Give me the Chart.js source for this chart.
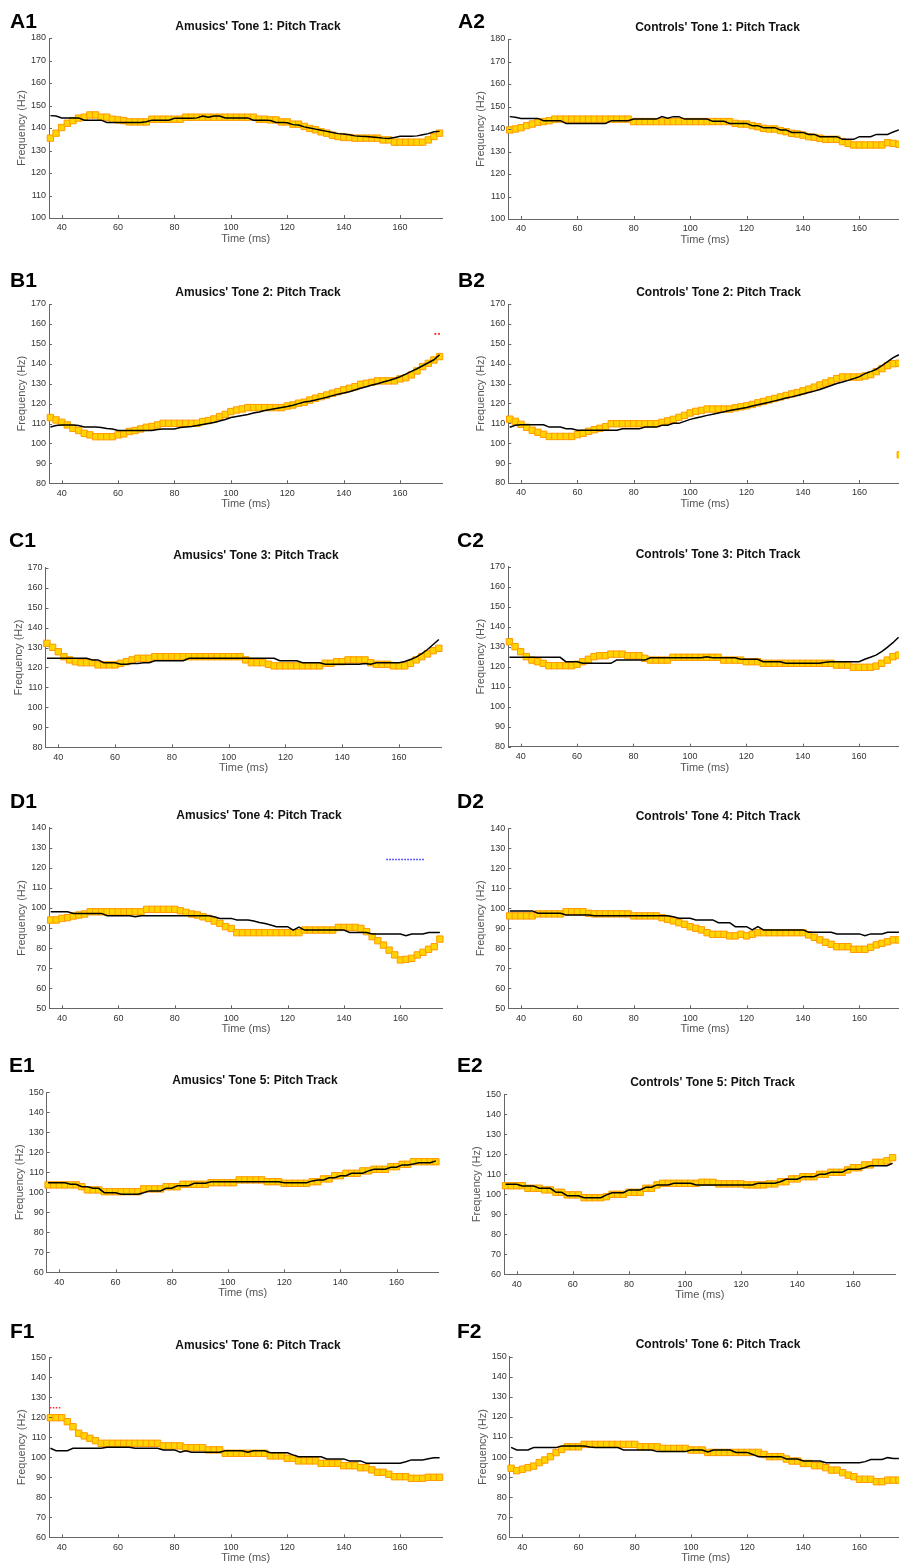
<!DOCTYPE html>
<html>
<head>
<meta charset="utf-8">
<title>Pitch tracks</title>
<script src="https://cdn.jsdelivr.net/npm/chart.js@4.4.0/dist/chart.umd.min.js"></script>
<style>
  html, body { margin: 0; padding: 0; background: #fff; }
  #fig { position: relative; width: 899px; height: 1565px; overflow: hidden; }
  #fig canvas { position: absolute; }
  .tag { position: absolute; font: bold 21px "Liberation Sans", Arial, sans-serif; line-height: 21px; color: #000; }
  .ptitle { position: absolute; width: 300px; text-align: center; white-space: nowrap;
            font: bold 12px "Liberation Sans", Arial, sans-serif; line-height: 14px; color: #111; }
</style>
</head>
<body>
<div id="fig"></div>
<script>
// Pitch tracks: black = target tone, yellow squares = produced pitch

const times = [36, 38, 40, 42, 44, 46, 48, 50, 52, 54, 56, 58,
  60, 62, 64, 66, 68, 70, 72, 74, 76, 78, 80, 82, 84, 86, 88, 90, 92, 94, 96, 98,
  100, 102, 104, 106, 108, 110, 112, 114, 116, 118, 120, 122, 124, 126, 128, 130, 132, 134, 136, 138,
  140, 142, 144, 146, 148, 150, 152, 154, 156, 158, 160, 162, 164, 166, 168, 170, 172, 174];

const timeTicks = [40, 60, 80, 100, 120, 140, 160];
const ticksTone1 = [100, 110, 120, 130, 140, 150, 160, 170, 180];
const ticksTone2 = [80, 90, 100, 110, 120, 130, 140, 150, 160, 170];
const ticksTone3 = [80, 90, 100, 110, 120, 130, 140, 150, 160, 170];
const ticksTone4 = [50, 60, 70, 80, 90, 100, 110, 120, 130, 140];
const ticksTone5 = [60, 70, 80, 90, 100, 110, 120, 130, 140, 150];
const ticksTone6 = [60, 70, 80, 90, 100, 110, 120, 130, 140, 150];

const a1Target = [145.5, 145.3, 144.5, 144.5, 144.5, 144.5, 143.5, 143.5, 143.5, 143.5, 142.5, 142.5,
  142.5, 142.5, 142.5, 142.5, 142.5, 142.8, 143.5, 143.5, 143.5, 143.5, 144.3, 144.3, 144.3, 144.3, 144.5, 145.3, 144.8, 145.3, 145.3, 144.5,
  144.5, 144.5, 144.5, 144.5, 143.5, 143.5, 143.5, 143.3, 142.5, 142.5, 142.3, 141.5, 141.3, 140.5, 140, 139.5, 139, 138.5, 138, 137.5,
  137.3, 137, 136.5, 136.3, 136.2, 136, 135.8, 135.5, 135.3, 135.8, 136.3, 136.3, 136.3, 136.5, 137, 137.5, 138.3, 138.5];
const a1Produced = [135.5, 137.7, 140.2, 142.1, 143.3, 144.4, 144.8, 145.8, 145.8, 144.8, 144.8, 143.9,
  143.6, 143.3, 142.7, 142.7, 142.7, 142.7, 143.9, 143.9, 143.9, 143.9, 143.9, 143.9, 144.8, 144.8, 144.8, 144.8, 144.8, 144.8, 144.8, 144.8,
  144.8, 144.8, 144.8, 144.8, 144.8, 143.9, 143.9, 143.6, 143.6, 142.7, 142.7, 141.7, 141.7, 140.7, 139.8, 139.2, 138.3, 137.7, 136.8, 136.2,
  135.8, 135.8, 135.5, 135.5, 135.5, 135.5, 135.5, 134.7, 134.7, 133.7, 133.7, 133.7, 133.7, 133.7, 133.7, 134.7, 136.2, 137.7];

const a2Target = [145.5, 145.2, 144.7, 144.7, 144.7, 144.7, 143.7, 143.7, 143.7, 143.7, 142.5, 142.5,
  142.5, 142.5, 142.5, 142.5, 142.5, 142.5, 143.7, 143.7, 143.7, 143.7, 144.4, 144.4, 144.4, 144.4, 144.4, 145.5, 144.8, 145.5, 145.5, 144.4,
  144.4, 144.4, 144.4, 144.4, 143.4, 143.4, 143.4, 142.5, 142.5, 142.5, 142.5, 141.5, 141.5, 140.6, 140.6, 140.6, 139.6, 139.6, 138.5, 138.5,
  138.5, 137.6, 137.6, 136.6, 136.6, 136.6, 136.6, 135.4, 135.4, 135.4, 136.6, 136.6, 136.6, 137.6, 137.6, 137.6, 138.7, 139.6];
const a2Produced = [139.6, 140, 140.6, 141.5, 142.2, 143, 143.3, 143.7, 144.4, 144.4, 144.4, 144.4,
  144.4, 144.4, 144.4, 144.4, 144.4, 144.4, 144.4, 144.4, 144.4, 144.4, 143.3, 143.3, 143.3, 143.3, 143.3, 143.3, 143.3, 143.3, 143.3, 143.3,
  143.3, 143.3, 143.3, 143.3, 143.3, 143.3, 143.3, 143.3, 142.5, 142.2, 142.2, 141.5, 141, 140.3, 140, 140, 139.3, 138.8, 138.1, 137.8,
  137.3, 136.6, 136.3, 135.9, 135.4, 135.4, 135.4, 134.4, 133.6, 132.9, 132.9, 132.9, 132.9, 132.9, 132.9, 133.9, 133.6, 133.2];

const b1Target = [108.3, 109, 109.3, 109.3, 109.3, 109, 108.3, 108.3, 108.3, 108, 107.5, 107.3,
  106.5, 106.5, 106.5, 106.5, 106.5, 106.5, 106.5, 107, 107.3, 107.3, 107.3, 108, 108.3, 108.5, 109, 109.5, 110, 110.5, 111.3, 112,
  113, 113.5, 114, 114.5, 115.3, 115.8, 116.5, 117, 117.5, 118, 118.5, 119.2, 120, 120.8, 121.2, 121.8, 122.5, 123.2, 124, 124.7,
  125.3, 126, 126.8, 127.7, 128.5, 129.3, 130, 130.8, 131.6, 132.5, 133.5, 134.8, 136.2, 137.5, 139, 140.5, 142, 144.5];
const b1Produced = [113, 111.8, 110.6, 109.3, 107.6, 106.5, 105.1, 104.3, 103.4, 103.4, 103.4, 103.4,
  104.3, 104.8, 106, 106.5, 107.3, 108.1, 108.5, 109.3, 110.1, 110.1, 110.1, 110.1, 110.1, 110.1, 110.1, 111, 111.5, 112.3, 113.5, 114.6,
  116, 116.8, 117.3, 118, 118, 118, 118, 118, 118, 118, 118.8, 119.3, 120.2, 120.7, 121.8, 122.7, 123.5, 124.3, 125.2, 126,
  126.9, 127.7, 128.5, 129.7, 130.2, 130.7, 131.4, 131.4, 131.4, 131.4, 132.4, 133, 134.4, 136.4, 138.6, 140.2, 141.9, 143.6];

const b2Target = [108, 109, 109.3, 109.3, 109.3, 109.3, 109.3, 108.1, 108.1, 108.1, 107.3, 107.3,
  106.5, 106.5, 106.5, 106.5, 106.5, 106.5, 106.5, 106.5, 107.3, 107.3, 107.3, 107.3, 108.1, 108.1, 108.1, 109, 109, 110, 110, 111,
  112, 112.7, 113.3, 114, 114.6, 115.2, 115.8, 116.5, 117, 117.5, 118, 118.7, 119.3, 120, 120.6, 121.3, 122, 122.7, 123.3, 124,
  124.7, 125.5, 126.2, 127, 128, 129, 130, 130.8, 131.6, 132.5, 133.5, 135, 136, 137.2, 139, 141, 143, 144.5];
const b2Produced = [112.1, 111, 109.5, 108, 106.5, 105.5, 104.5, 103.4, 103.4, 103.4, 103.4, 103.4,
  104.3, 105, 106, 106.8, 107.5, 108.3, 109.8, 109.8, 109.8, 109.8, 109.8, 109.8, 109.8, 109.8, 109.8, 110.5, 111.2, 112, 113, 114,
  115.2, 116, 116.5, 117.2, 117.2, 117.2, 117.2, 117.2, 117.8, 118.3, 118.8, 119.5, 120.3, 121, 121.8, 122.5, 123.3, 124, 124.8, 125.5,
  126.3, 127.2, 128.2, 129.3, 130.3, 131.3, 132.5, 133.3, 133.3, 133.3, 133.3, 133.8, 134.5, 136, 137.5, 139, 140, 140.2];

const c1Target = [124.6, 124.6, 124.6, 124.6, 124.6, 124.6, 124.6, 124.6, 123.8, 123.8, 122.4, 122.4,
  122.4, 121.6, 121.6, 122, 122, 122.4, 122.4, 123.4, 123.4, 123.4, 123.4, 123.4, 123.4, 124.6, 124.6, 124.6, 124.6, 124.6, 124.6, 124.6,
  124.6, 124.6, 124.6, 124.6, 124.6, 124.6, 124.6, 124.6, 124.6, 123.4, 123.4, 123.4, 123.4, 122.4, 122.4, 122.4, 122.4, 121.6, 121.6, 121.6,
  121.6, 121.6, 121.6, 121.6, 122, 121.6, 122.4, 122.4, 122.4, 122.4, 122.4, 123, 124, 125.2, 127, 129, 131.5, 134];
const c1Produced = [132.1, 130.1, 127.9, 125.4, 123.8, 122.9, 122.4, 122.4, 122.4, 121.3, 121.3, 121.3,
  121.3, 122.1, 122.9, 123.8, 124.6, 124.6, 124.6, 125.4, 125.4, 125.4, 125.4, 125.4, 125.4, 125.4, 125.4, 125.4, 125.4, 125.4, 125.4, 125.4,
  125.4, 125.4, 125.4, 123.8, 122.4, 122.4, 122.4, 121.6, 120.8, 120.8, 120.8, 120.8, 120.8, 120.8, 120.8, 120.8, 120.8, 122.1, 122.1, 122.9,
  122.9, 123.8, 123.8, 123.8, 123.8, 122.4, 121.6, 121.6, 121.6, 120.8, 120.8, 120.8, 122.1, 123.8, 125.4, 126.8, 128.4, 129.6];

const c2Target = [124.7, 124.7, 124.7, 124.7, 124.7, 124.7, 124.7, 124.7, 124.7, 124.7, 122.5, 122.5,
  122.5, 121.7, 121.7, 121.7, 121.7, 121.7, 121.7, 123.3, 123.3, 123.3, 123.3, 123.3, 123.3, 124.5, 124.5, 124.5, 124.5, 124.5, 124.5, 124.5,
  124.5, 124.5, 124.5, 125, 124.5, 124.5, 124.5, 124.5, 124.5, 123.7, 123.7, 123.7, 123.7, 122.5, 122.5, 122.5, 122.5, 121.7, 121.7, 121.7,
  121.7, 121.7, 121.7, 121.7, 122.2, 122.5, 122.5, 122.5, 122.5, 122.5, 122.5, 123.7, 124.7, 125.8, 127.5, 129.7, 132, 134.7];
const c2Produced = [132.5, 130, 127.5, 125, 123.3, 122.5, 121.7, 120.5, 120.5, 120.5, 120.5, 120.5,
  121.2, 122.5, 123.7, 125, 125.5, 125.5, 126.3, 126.3, 126.3, 125.5, 125.5, 125.5, 124.2, 123.3, 123.3, 123.3, 123.3, 124.7, 124.7, 124.7,
  124.7, 124.7, 124.7, 124.7, 124.7, 124.7, 123.3, 123.3, 123.3, 123.3, 122.5, 122.5, 122.5, 121.7, 121.7, 121.7, 121.7, 121.7, 121.7, 121.7,
  121.7, 121.7, 121.7, 121.7, 121.7, 121.7, 120.8, 120.8, 120.8, 119.7, 119.7, 119.7, 119.7, 120.3, 121.7, 123.3, 125, 125.8];

const d1Target = [98.1, 98.1, 98.1, 98.1, 97.3, 97.3, 97.3, 97.3, 97.3, 97.3, 96.1, 96.1,
  96.1, 96.1, 96.1, 95.6, 96.1, 96.1, 96.1, 96.1, 96.1, 96.1, 96.1, 96.1, 96.1, 96.1, 96.1, 96.1, 96.1, 95.6, 94.8, 94.8,
  94.8, 94, 94, 94, 93.5, 92.8, 92.3, 91.5, 90.7, 90.7, 90.7, 89, 90.5, 89, 89, 89, 89, 89, 89, 89,
  89, 87.8, 87.8, 87.8, 87.8, 87, 87, 87, 87, 87, 87, 86.2, 87, 87, 87, 87.8, 87.8, 87.8];
const d1Produced = [94, 94, 94.8, 95.2, 96, 96.5, 97, 98.1, 98.1, 98.1, 98.1, 98.1,
  98.1, 98.1, 98.1, 98.1, 98.1, 99.3, 99.3, 99.3, 99.3, 99.3, 99.3, 98.6, 97.8, 97, 96.5, 95.6, 94.8, 93.5, 92.3, 90.7,
  89.8, 87.7, 87.7, 87.7, 87.7, 87.7, 87.7, 87.7, 87.7, 87.7, 87.7, 87.7, 87.7, 89, 89, 89, 89, 89, 89, 90.3,
  90.3, 90.3, 90.3, 89.8, 88.2, 85.7, 83.7, 81.5, 79, 76.6, 74.1, 74.4, 74.9, 76.6, 77.9, 79.4, 80.7, 84.5];

const d2Target = [98.7, 98.7, 98.7, 98.7, 98.7, 97.5, 97.5, 97.5, 97.5, 97.5, 96.7, 96.7,
  96.7, 96.7, 96.7, 96.3, 96.3, 96.3, 96.3, 96.3, 96.3, 96.3, 96.3, 96.3, 96.3, 96.3, 96.3, 96.3, 96.3, 95.8, 95, 95,
  95, 94.2, 94.2, 94.2, 94.2, 92.8, 92.8, 92.8, 90.8, 90.8, 90.8, 89.2, 90.8, 89.2, 89.2, 89.2, 89.2, 89.2, 89.2, 89.2,
  89.2, 88, 88, 88, 88, 88, 87.2, 87.2, 87.2, 87.2, 87.2, 86.3, 87.2, 87.2, 87.2, 88, 88, 88];
const d2Produced = [96.2, 96.2, 96.2, 96.2, 96.2, 97.2, 97.2, 97.2, 97.2, 97.2, 98.3, 98.3,
  98.3, 98.3, 97.5, 97.2, 97.2, 97.2, 97.2, 97.2, 97.2, 97.2, 96.2, 96.2, 96.2, 96.2, 96.2, 95.3, 94.5, 93.7, 92.8, 92,
  90.8, 90, 89.2, 87.8, 87, 87, 87, 86.2, 86.2, 87, 86.2, 87, 87.8, 87.8, 87.8, 87.8, 87.8, 87.8, 87.8, 87.8,
  87.8, 86.7, 85.5, 84.2, 83, 82, 80.8, 80.8, 80.8, 79.5, 79.5, 79.5, 80.5, 81.7, 82.5, 83.3, 84.2, 84.2];

const e1Target = [104.8, 104.8, 104.8, 104.8, 104, 104, 102.8, 102.8, 102, 102, 99.8, 99.8,
  99.8, 99, 99, 99, 99, 99.8, 100.7, 100.7, 100.7, 102, 102, 103.3, 103.3, 103.3, 104.5, 104.5, 104.5, 105.3, 105.3, 105.3,
  105.3, 105.3, 105.3, 105.3, 105.3, 105.3, 105.3, 105.3, 105.3, 105.3, 104.8, 104.8, 104.8, 104.8, 104.8, 105.7, 106.2, 106.2, 107.3, 107.3,
  108.3, 108.3, 109.5, 109.5, 109.5, 110.7, 111.5, 111.5, 111.5, 112.5, 112.5, 113.7, 113.7, 114.2, 114.8, 114.8, 114.8, 115.7];
const e1Produced = [103.7, 103.7, 103.7, 103.7, 103.7, 103.7, 102.8, 101.2, 101.2, 101.2, 100.3, 100.3,
  100.3, 100.3, 100.3, 100.3, 100.3, 101.7, 101.7, 101.7, 101.7, 102.8, 102.8, 102.8, 104, 104, 104, 104, 104, 104.8, 104.8, 104.8,
  104.8, 104.8, 106.2, 106.2, 106.2, 106.2, 106.2, 105.3, 105.3, 105.3, 104.5, 104.5, 104.5, 104.5, 104.5, 105.3, 105.3, 106.7, 106.7, 108.3,
  108.3, 109.5, 109.5, 109.5, 110.7, 110.7, 111.5, 111.5, 111.5, 112.8, 112.8, 114, 114, 115.3, 115.3, 115.3, 115.3, 115.3];

const e2Target = [105, 105, 105, 104.2, 104.2, 104.2, 103, 103, 103, 101, 101, 99.3,
  99.3, 99.3, 98.3, 98.3, 98.3, 98.3, 99.7, 100.8, 100.8, 100.8, 102.2, 102.2, 102.2, 103.5, 103.5, 104.7, 104.7, 104.7, 105.5, 105.5,
  105.5, 105.5, 104.7, 104.7, 104.7, 104.7, 104.7, 104.7, 104.7, 104.7, 104.7, 104.7, 104.7, 105.5, 105.5, 105.5, 105.5, 106.3, 107.5, 107.5,
  107.5, 108.8, 108.8, 108.8, 110, 110, 111, 111, 111, 112.5, 112.5, 112.5, 113.3, 114.3, 114.3, 114.3, 114.3, 115.5];
const e2Produced = [104.3, 104.3, 104.3, 104.3, 103, 103, 103, 102.2, 102.2, 101, 101, 99.7,
  99.7, 99.7, 98.3, 98.3, 98.3, 98.3, 98.8, 100, 100, 100, 101, 101, 101, 103, 103, 104.7, 105.5, 105.5, 105.5, 105.5,
  105.5, 105.5, 105.5, 106, 106, 106, 105.2, 105.2, 105.2, 105.2, 105.2, 104.7, 104.7, 104.7, 104.7, 105.2, 105.2, 106.3, 106.3, 107.7,
  107.7, 108.8, 108.8, 108.8, 110, 110, 111, 111, 111, 112.2, 113.3, 113.3, 114.7, 114.7, 116, 116, 116.7, 118.3];

const f1Target = [104.5, 103.3, 103.3, 103.3, 104.5, 104.5, 104.5, 104.5, 104.5, 104.5, 105, 105,
  105, 105, 105, 104.5, 104.5, 104.5, 104.5, 104.5, 103.7, 103.7, 103.7, 102.5, 103.3, 102.5, 102.5, 102.5, 102.5, 102.5, 102.5, 103.3,
  103.3, 103.3, 103.3, 102.5, 103.3, 103.3, 103.3, 102.3, 102.3, 102.3, 102.3, 101.2, 100.3, 100.3, 100.3, 100.3, 100.3, 99.2, 99.2, 99.2,
  99.2, 98.2, 98.2, 98.2, 97, 97, 97, 97, 97, 97, 97, 97.8, 98.7, 98.7, 98.7, 99.3, 99.8, 99.8];
const f1Produced = [119.8, 119.8, 119.8, 117.8, 115.3, 112, 110.7, 109.5, 108.3, 107, 107, 107,
  107, 107, 107, 107, 107, 107, 107, 107, 105.7, 105.7, 105.7, 105.7, 104.8, 104.8, 104.8, 104.8, 103.7, 103.7, 103.7, 102,
  102, 102, 102, 102, 102, 102, 102, 100.7, 100.7, 100.7, 99.5, 99.5, 98.2, 98.2, 98.2, 98.2, 97, 97, 97, 97,
  95.8, 95.8, 95.8, 94.8, 94.8, 93.7, 92.5, 92.5, 91.5, 90.3, 90.3, 90.3, 89.5, 89.5, 89.5, 90, 90, 90];

const f2Target = [104.8, 103.5, 103.5, 103.5, 104.7, 104.7, 104.7, 104.7, 104.7, 105.5, 105.5, 105.5,
  105.5, 105.5, 105, 104.7, 104.7, 104.7, 104.7, 104.7, 103.5, 103.5, 103.5, 103.5, 103.5, 103.5, 102.7, 102.7, 102.7, 102.7, 102.7, 102.7,
  103.5, 103.5, 103.5, 102.5, 103.5, 103.5, 103.5, 103.5, 102.3, 102.3, 102.3, 101.3, 100.2, 100.2, 100.2, 100.2, 100.2, 99, 99, 99,
  98, 98, 98, 98, 97.2, 97.2, 97.2, 97.2, 97.2, 97.2, 97.2, 97.7, 98.8, 98.8, 98.8, 99.7, 99.3, 99.3];
const f2Produced = [94.4, 93.2, 93.9, 94.7, 95.5, 97.2, 98.5, 100.2, 102.2, 103.8, 105.1, 105.1,
  105.1, 106.3, 106.3, 106.3, 106.3, 106.3, 106.3, 106.3, 106.3, 106.3, 106.3, 105.1, 105.1, 105.1, 105.1, 104.3, 104.3, 104.3, 104.3, 104.3,
  103.5, 103.5, 103.5, 102.3, 102.3, 102.3, 102.3, 102.3, 102.3, 102.3, 102.3, 102.3, 102.3, 101.3, 100.2, 100.2, 100.2, 99, 98, 98,
  96.8, 96.8, 95.7, 95.7, 94.7, 93.5, 93.5, 92.2, 91, 90.2, 88.9, 88.9, 88.9, 87.7, 87.7, 88.5, 88.5, 88.5];

// odd marks left in the original figure
const b1RedTimes = [172.5, 173.8];
const b1RedFreq = [155, 155];
const b2StrayTimes = [174.5];
const b2StrayFreq = [94.2];
const d1BlueTimes = [155, 168.5];
const d1BlueFreq = [124.2, 124.2];
const f1RedTimes = [35.8, 39.8];
const f1RedFreq = [124.8, 124.8];

const FONT = '"Liberation Sans", Arial, sans-serif';

function pts(xs, ys) {
  return xs.map((x, i) => ({ x: x, y: ys[i] }));
}

const redDots = (xs, ys) => ({ data: pts(xs, ys), showLine: false, pointStyle: 'rect', pointRadius: 1.3,
  pointBackgroundColor: '#ff2020', pointBorderWidth: 0, clip: false, order: -1 });
const dottedLine = (xs, ys, color) => ({ data: pts(xs, ys), borderColor: color, borderWidth: 1.5,
  borderDash: [1.5, 1.5], pointRadius: 0, clip: false, order: -1 });
const straySquare = (xs, ys) => ({ data: pts(xs, ys), showLine: false, pointStyle: 'rect', pointRadius: 4.5,
  pointBackgroundColor: '#ffd400', pointBorderColor: '#ff9a00', pointBorderWidth: 1, clip: false, order: 1 });

const panels = [
  { tag: 'A1', title: "Amusics' Tone 1: Pitch Track", target: a1Target, sung: a1Produced, yTicks: ticksTone1,
    left: 49, top: 38, bottom: 218, ppm: 2.82, titleX: 258, tagX: 10, tagBase: 28 },
  { tag: 'A2', title: "Controls' Tone 1: Pitch Track", target: a2Target, sung: a2Produced, yTicks: ticksTone1,
    left: 508.3, top: 39, bottom: 219, ppm: 2.82, titleX: 717.5, tagX: 458, tagBase: 28 },
  { tag: 'B1', title: "Amusics' Tone 2: Pitch Track", target: b1Target, sung: b1Produced, yTicks: ticksTone2,
    left: 49, top: 304, bottom: 483.3, ppm: 2.82, titleX: 258, tagX: 10, tagBase: 287,
    extras: [redDots(b1RedTimes, b1RedFreq)] },
  { tag: 'B2', title: "Controls' Tone 2: Pitch Track", target: b2Target, sung: b2Produced, yTicks: ticksTone2,
    left: 508.3, top: 304, bottom: 483, ppm: 2.82, titleX: 718.5, tagX: 458, tagBase: 287,
    extras: [straySquare(b2StrayTimes, b2StrayFreq)] },
  { tag: 'C1', title: "Amusics' Tone 3: Pitch Track", target: c1Target, sung: c1Produced, yTicks: ticksTone3,
    left: 45.5, top: 567.7, bottom: 747.3, ppm: 2.84, titleX: 256, tagX: 9, tagBase: 547 },
  { tag: 'C2', title: "Controls' Tone 3: Pitch Track", target: c2Target, sung: c2Produced, yTicks: ticksTone3,
    left: 508, top: 566.7, bottom: 746.7, ppm: 2.82, titleX: 718, tagX: 457, tagBase: 547 },
  { tag: 'D1', title: "Amusics' Tone 4: Pitch Track", target: d1Target, sung: d1Produced, yTicks: ticksTone4,
    left: 49.3, top: 827.7, bottom: 1008.3, ppm: 2.82, titleX: 259, tagX: 10, tagBase: 808,
    extras: [dottedLine(d1BlueTimes, d1BlueFreq, '#2a2aff')] },
  { tag: 'D2', title: "Controls' Tone 4: Pitch Track", target: d2Target, sung: d2Produced, yTicks: ticksTone4,
    left: 508.3, top: 828.3, bottom: 1008.3, ppm: 2.82, titleX: 718, tagX: 457, tagBase: 808 },
  { tag: 'E1', title: "Amusics' Tone 5: Pitch Track", target: e1Target, sung: e1Produced, yTicks: ticksTone5,
    left: 46.7, top: 1092.3, bottom: 1272.3, ppm: 2.81, titleX: 255, tagX: 9, tagBase: 1072 },
  { tag: 'E2', title: "Controls' Tone 5: Pitch Track", target: e2Target, sung: e2Produced, yTicks: ticksTone5,
    left: 504.1, top: 1094.3, bottom: 1274.3, ppm: 2.805, titleX: 712.5, tagX: 457, tagBase: 1072 },
  { tag: 'F1', title: "Amusics' Tone 6: Pitch Track", target: f1Target, sung: f1Produced, yTicks: ticksTone6,
    left: 49, top: 1357.3, bottom: 1537.3, ppm: 2.82, titleX: 258, tagX: 10, tagBase: 1338,
    extras: [dottedLine(f1RedTimes, f1RedFreq, '#ff3030')] },
  { tag: 'F2', title: "Controls' Tone 6: Pitch Track", target: f2Target, sung: f2Produced, yTicks: ticksTone6,
    left: 509.7, top: 1356.7, bottom: 1537.3, ppm: 2.81, titleX: 718, tagX: 457, tagBase: 1338 }
];

// small inward tick marks, like the original plotting program
const innerTicks = {
  id: 'innerTicks',
  afterDraw(chart) {
    const { ctx, chartArea: a, scales: { x, y } } = chart;
    ctx.save();
    ctx.strokeStyle = '#666';
    ctx.lineWidth = 1;
    ctx.beginPath();
    x.ticks.forEach(t => {
      const px = Math.round(x.getPixelForValue(t.value)) + 0.5;
      ctx.moveTo(px, a.bottom);
      ctx.lineTo(px, a.bottom - 3);
    });
    y.ticks.forEach(t => {
      const py = Math.round(y.getPixelForValue(t.value)) + 0.5;
      ctx.moveTo(a.left, py);
      ctx.lineTo(a.left + 3, py);
    });
    ctx.stroke();
    ctx.restore();
  }
};

const fig = document.getElementById('fig');

panels.forEach(p => {
  const plotW = 139.5 * p.ppm;
  const cLeft = Math.floor(p.left - 52);
  const cTop = Math.floor(p.top - 10);
  const cW = Math.ceil(p.left + plotW + 8) - cLeft;
  const cH = Math.ceil(p.bottom + 40) - cTop;

  const canvas = document.createElement('canvas');
  canvas.width = cW;
  canvas.height = cH;
  canvas.style.left = cLeft + 'px';
  canvas.style.top = cTop + 'px';
  canvas.style.width = cW + 'px';
  canvas.style.height = cH + 'px';
  fig.appendChild(canvas);

  const title = document.createElement('div');
  title.className = 'ptitle';
  title.textContent = p.title;
  title.style.left = (p.titleX - 150) + 'px';
  title.style.top = (p.top - 19.5) + 'px';
  fig.appendChild(title);

  const tag = document.createElement('div');
  tag.className = 'tag';
  tag.textContent = p.tag;
  tag.style.left = p.tagX + 'px';
  tag.style.top = (p.tagBase - 17.8) + 'px';
  fig.appendChild(tag);

  const datasets = [
    { data: pts(times, p.target), borderColor: '#000', borderWidth: 1.5, pointRadius: 0,
      tension: 0, fill: false, order: 0 },
    { data: pts(times, p.sung), showLine: false, pointStyle: 'rect', pointRadius: 4.5,
      pointBackgroundColor: '#ffd400', pointBorderColor: '#ff9a00', pointBorderWidth: 1,
      clip: 8, order: 1 }
  ].concat(p.extras || []);

  new Chart(canvas, {
    type: 'line',
    data: { datasets: datasets },
    options: {
      responsive: false,
      animation: false,
      devicePixelRatio: 1,
      events: [],
      layout: {
        padding: {
          left: p.left - 48 - cLeft,
          top: p.top - cTop,
          right: cLeft + cW - (p.left + plotW),
          bottom: cTop + cH - (p.bottom + 36)
        }
      },
      plugins: {
        legend: { display: false },
        tooltip: { enabled: false },
        title: { display: false }
      },
      scales: {
        x: {
          type: 'linear',
          min: 35.5,
          max: 175,
          afterBuildTicks: s => { s.ticks = timeTicks.map(v => ({ value: v })); },
          afterFit: s => { s.height = 36; },
          grid: { display: false, drawTicks: false },
          border: { color: '#666', width: 1 },
          ticks: { font: { size: 9, family: FONT }, color: '#333', padding: 4.5, maxRotation: 0, autoSkip: false },
          title: { display: true, text: 'Time (ms)', font: { size: 11, family: FONT }, color: '#555',
                   padding: { top: 0, bottom: 8.4 } }
        },
        y: {
          type: 'linear',
          min: p.yTicks[0],
          max: p.yTicks[p.yTicks.length - 1],
          afterBuildTicks: s => { s.ticks = p.yTicks.map(v => ({ value: v })); },
          afterFit: s => { s.width = 48; },
          grid: { display: false, drawTicks: false },
          border: { color: '#666', width: 1 },
          ticks: { font: { size: 9, family: FONT }, color: '#333', padding: 3, autoSkip: false },
          title: { display: true, text: 'Frequency (Hz)', font: { size: 11, family: FONT }, color: '#555',
                   padding: { top: 14.4, bottom: 0 } }
        }
      }
    },
    plugins: [innerTicks]
  });
});
</script>
</body>
</html>
